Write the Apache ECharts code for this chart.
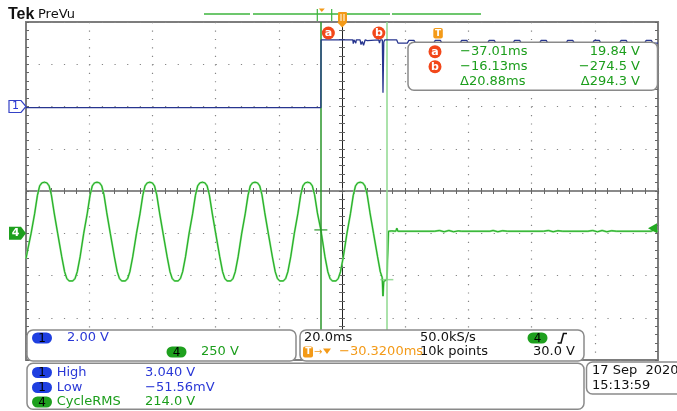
<!DOCTYPE html>
<html>
<head>
<meta charset="utf-8">
<script src="https://cdn.jsdelivr.net/npm/echarts@6/dist/echarts.min.js"></script>
<style>
  html, body { margin: 0; padding: 0; background: #fff; }
  #scope { width: 677px; height: 411px; }
</style>
</head>
<body>
<div id="scope"></div>
<script>
// Horizontal window, ms relative to the trigger point (20 ms/div, 10 div)
const timeRange = [-130.32, 69.68];
const timePerDiv = 20;

// Vertical scales
const ch1VoltsPerDiv = 2.0;
const ch4VoltsPerDiv = 250;
const ch1PositionDiv = 2;   // ground marker, divisions above centre
const ch4PositionDiv = -1;

// Channel 1: control signal [ms, V]
const ch1Trace = [
  [-130.32, -0.05], [-37.0, -0.05], [-36.95, 3.15],
  [-26.9, 3.15], [-26.75, 2.98], [-26.55, 3.15],
  [-26.1, 3.15], [-25.95, 3.0], [-25.8, 3.15],
  [-24.6, 3.15], [-24.3, 2.93], [-23.9, 3.08], [-23.5, 2.9], [-23.0, 3.15],
  [-22.3, 3.12], [-21.9, 3.15],
  [-18.7, 3.15], [-18.45, 3.0], [-18.2, 3.15],
  [-17.55, 3.15], [-17.35, 0.65], [-17.1, 3.05], [-16.8, 3.15],
  [-13.0, 3.15], [-12.6, 3.0],
  [-9.65, 3.0], [-9.15, 3.13], [-7.55, 3.13], [-7.05, 3.0],
  [-1.3, 3.0], [-0.8, 3.13], [0.8, 3.13], [1.3, 3.0],
  [7.05, 3.0], [7.55, 3.13], [9.15, 3.13], [9.65, 3.0],
  [15.75, 3.0], [16.25, 3.13], [17.85, 3.13], [18.35, 3.0],
  [23.8, 3.0], [24.3, 3.13], [25.9, 3.13], [26.4, 3.0],
  [32.2, 3.0], [32.7, 3.13], [34.3, 3.13], [34.8, 3.0],
  [40.6, 3.0], [41.1, 3.13], [42.7, 3.13], [43.2, 3.0],
  [49.0, 3.0], [49.5, 3.13], [51.1, 3.13], [51.6, 3.0],
  [57.5, 3.0], [58.0, 3.13], [59.6, 3.13], [60.1, 3.0],
  [65.45, 3.0], [65.95, 3.13], [67.55, 3.13], [68.05, 3.0],
  [69.68, 3.0]
];

// Channel 4: mains voltage [ms, V]
const ch4Trace = [
  [-130.32, -150], [-129.8, -100],
  [-128.7, 0], [-127.6, 115], [-126.7, 225], [-126.0, 280], [-125.3, 298], [-124.5, 302], [-123.7, 298], [-123.0, 280], [-122.3, 228], [-121.4, 120],
  [-120.3, 0], [-119.0, -140], [-118.1, -228], [-117.4, -268], [-116.7, -282], [-116.1, -285], [-115.5, -282], [-114.8, -268], [-114.1, -228], [-113.2, -140],
  [-112.05, 0], [-110.95, 115], [-110.05, 225], [-109.35, 280], [-108.65, 298], [-107.85, 302], [-107.05, 298], [-106.35, 280], [-105.65, 228], [-104.75, 120],
  [-103.65, 0], [-102.35, -140], [-101.45, -228], [-100.75, -268], [-100.05, -282], [-99.45, -285], [-98.85, -282], [-98.15, -268], [-97.45, -228], [-96.55, -140],
  [-95.35, 0], [-94.25, 115], [-93.35, 225], [-92.65, 280], [-91.95, 298], [-91.15, 302], [-90.35, 298], [-89.65, 280], [-88.95, 228], [-88.05, 120],
  [-86.95, 0], [-85.65, -140], [-84.75, -228], [-84.05, -268], [-83.35, -282], [-82.75, -285], [-82.15, -282], [-81.45, -268], [-80.75, -228], [-79.85, -140],
  [-78.7, 0], [-77.6, 115], [-76.7, 225], [-76.0, 280], [-75.3, 298], [-74.5, 302], [-73.7, 298], [-73.0, 280], [-72.3, 228], [-71.4, 120],
  [-70.3, 0], [-69.0, -140], [-68.1, -228], [-67.4, -268], [-66.7, -282], [-66.1, -285], [-65.5, -282], [-64.8, -268], [-64.1, -228], [-63.2, -140],
  [-62.05, 0], [-60.95, 115], [-60.05, 225], [-59.35, 280], [-58.65, 298], [-57.85, 302], [-57.05, 298], [-56.35, 280], [-55.65, 228], [-54.75, 120],
  [-53.65, 0], [-52.35, -140], [-51.45, -228], [-50.75, -268], [-50.05, -282], [-49.45, -285], [-48.85, -282], [-48.15, -268], [-47.45, -228], [-46.55, -140],
  [-45.4, 0], [-44.3, 115], [-43.4, 225], [-42.7, 280], [-42.0, 298], [-41.2, 302], [-40.4, 298], [-39.7, 280], [-39.0, 228], [-38.1, 120],
  [-37.01, 20], [-35.7, -140], [-34.8, -228], [-34.1, -268], [-33.4, -282], [-32.8, -285], [-32.2, -282], [-31.5, -268], [-30.8, -228], [-29.9, -140],
  [-28.75, 0], [-27.65, 115], [-26.75, 225], [-26.05, 280], [-25.35, 298], [-24.55, 302], [-23.75, 298], [-23.05, 280], [-22.35, 228], [-21.45, 120],
  [-20.35, 0], [-19.05, -140], [-18.2, -228], [-17.6, -262], [-17.35, -372], [-17.1, -285], [-16.6, -280], [-16.13, -274.5], [-15.8, -272], [-15.6, 12],
  [-14.6, 14], [-13.3, 12], [-12.95, 30], [-12.65, 12], [-1.0, 12],
  [0.5, 16], [2.0, 9], [3.5, 16], [5.0, 9], [6.5, 14], [7.5, 12],
  [16.5, 12], [17.5, 16], [19.0, 9], [20.5, 15], [22.0, 12],
  [33.5, 12], [35.0, 16], [36.5, 9], [38.0, 15], [39.5, 12],
  [47.5, 12], [49.0, 16], [50.5, 9], [52.0, 16], [53.5, 9], [55.0, 15], [56.5, 12],
  [67.5, 12], [68.5, 20], [69.68, 12]
];

// Cursors (time, channel 4 value)
const cursorTimes = [-37.01, -16.13];
const cursorVolts = [19.84, -274.5];
const cursorNames = ['a', 'b'];

// Trigger
const triggerLevel = 30.0;
const triggerOffsetLabel = '−30.3200ms';

// Status readouts
const scaleLabels = ['2.00 V', '250 V'];
const horizLabels = ['20.0ms', '50.0kS/s', '10k points', '30.0 V'];
const measureChannels = [1, 1, 4];
const measureNames = ['High', 'Low', 'CycleRMS'];
const measureValues = ['3.040 V', '−51.56mV', '214.0 V'];
const dateLines = ['17 Sep  2020', '15:13:59'];

const BLUE_TRACE = '#27358f';
const BLUE_TEXT = '#2a38d6';
const BLUE_PILL = '#1f3fe0';
const GREEN_TEXT = '#1c9e1c';
const GREEN_PILL = '#1ea01e';
const ORANGE = '#f39a18';
const CURSOR_RED = '#f2471a';
const FONT = '"DejaVu Sans"';

const signed = v => (v < 0 ? '−' : '') + Math.abs(v).toPrecision(4);

const divAxisBase = {
  type: 'value', min: -5, max: 5, interval: 1, gridIndex: 0,
  axisLabel: { show: false }, splitLine: { show: false }
};
const divYBase = {
  type: 'value', min: -4, max: 4, interval: 1, gridIndex: 0,
  axisLabel: { show: false }, splitLine: { show: false }
};
const tickStyle = { color: '#666', width: 1 };

const chart = echarts.init(document.getElementById('scope'), null, { renderer: 'canvas' });

const option = {
  animation: false,
  backgroundColor: '#fff',
  grid: {
    left: 26, top: 22, width: 632, height: 338,
    show: true, backgroundColor: '#fff', borderColor: '#7d7d7d', borderWidth: 2
  },
  xAxis: [
    { type: 'value', min: timeRange[0], max: timeRange[1], show: false },
    Object.assign({}, divAxisBase, {
      position: 'top', offset: -169,
      axisLine: { show: true, lineStyle: { color: '#8a8a8a', width: 2 } },
      axisTick: { show: true, inside: true, length: 3, lineStyle: tickStyle },
      minorTick: { show: true, splitNumber: 5, length: 3, lineStyle: tickStyle },
      splitLine: { show: true, lineStyle: { color: '#858585', width: 1.2, type: [1.2, 7.25] } }
    }),
    Object.assign({}, divAxisBase, {
      position: 'top', offset: -169,
      axisLine: { show: false },
      axisTick: { show: true, inside: false, length: 3, lineStyle: tickStyle },
      minorTick: { show: true, splitNumber: 5, length: 3, lineStyle: tickStyle }
    }),
    Object.assign({}, divAxisBase, {
      position: 'top', offset: 0,
      axisLine: { show: false },
      axisTick: { show: true, inside: true, length: 3, lineStyle: tickStyle },
      minorTick: { show: true, splitNumber: 5, length: 3, lineStyle: tickStyle }
    })
  ],
  yAxis: [
    { type: 'value', min: -(4 + ch1PositionDiv) * ch1VoltsPerDiv, max: (4 - ch1PositionDiv) * ch1VoltsPerDiv, show: false },
    { type: 'value', min: -(4 + ch4PositionDiv) * ch4VoltsPerDiv, max: (4 - ch4PositionDiv) * ch4VoltsPerDiv, show: false },
    Object.assign({}, divYBase, {
      position: 'left', offset: -316,
      axisLine: { show: true, lineStyle: { color: '#222', width: 1 } },
      axisTick: { show: true, inside: true, length: 3, lineStyle: tickStyle },
      minorTick: { show: true, splitNumber: 5, length: 3, lineStyle: tickStyle },
      splitLine: { show: true, lineStyle: { color: '#858585', width: 1.2, type: [1.2, 11.44] } }
    }),
    Object.assign({}, divYBase, {
      position: 'left', offset: -316,
      axisLine: { show: false },
      axisTick: { show: true, inside: false, length: 3, lineStyle: tickStyle },
      minorTick: { show: true, splitNumber: 5, length: 3, lineStyle: tickStyle }
    }),
    Object.assign({}, divYBase, {
      position: 'left', offset: 0,
      axisLine: { show: false },
      axisTick: { show: true, inside: true, length: 3, lineStyle: tickStyle },
      minorTick: { show: true, splitNumber: 5, length: 3, lineStyle: tickStyle }
    }),
    Object.assign({}, divYBase, {
      position: 'right', offset: 0,
      axisLine: { show: false },
      axisTick: { show: true, inside: true, length: 3, lineStyle: tickStyle },
      minorTick: { show: true, splitNumber: 5, length: 3, lineStyle: tickStyle }
    })
  ],
  series: [
    {
      name: 'cursors', type: 'line', xAxisIndex: 0, yAxisIndex: 1, data: [], z: 2,
      markLine: {
        silent: true, symbol: 'none', label: { show: false },
        data: [
          { xAxis: cursorTimes[0], lineStyle: { color: '#2a962a', width: 1.5, type: 'solid' } },
          { xAxis: cursorTimes[1], lineStyle: { color: '#8fd88f', width: 1.5, type: 'solid' } }
        ]
      }
    },
    {
      name: 'CH4 glow', type: 'line', xAxisIndex: 0, yAxisIndex: 1, data: ch4Trace,
      showSymbol: false, z: 3, lineStyle: { color: '#86df86', width: 2 }
    },
    {
      name: 'CH4', type: 'line', xAxisIndex: 0, yAxisIndex: 1, data: ch4Trace,
      showSymbol: false, z: 4, lineStyle: { color: '#22aa22', width: 1 }
    },
    {
      name: 'CH1', type: 'line', xAxisIndex: 0, yAxisIndex: 0, data: ch1Trace,
      showSymbol: false, z: 5, lineStyle: { color: BLUE_TRACE, width: 1.3 }
    },
    {
      name: 'cursor marks', type: 'scatter', xAxisIndex: 0, yAxisIndex: 1, z: 6,
      symbol: 'rect', symbolSize: [13, 1.5],
      data: [
        { value: [cursorTimes[0], cursorVolts[0]], itemStyle: { color: '#2a962a' } },
        { value: [cursorTimes[1], cursorVolts[1]], itemStyle: { color: '#7fd07f' } }
      ]
    }
  ]
};

chart.setOption(option);

// ---- overlay: status boxes, markers and readouts ----
const px = t => chart.convertToPixel({ xAxisIndex: 0 }, t);
const py1 = v => chart.convertToPixel({ yAxisIndex: 0 }, v);
const py4 = v => chart.convertToPixel({ yAxisIndex: 1 }, v);

function txt(x, y, s, color, font, align) {
  return {
    type: 'text', x: x, y: y, z: 112,
    style: {
      text: s, fill: color, font: font || ('13px ' + FONT),
      align: align || 'left', textAlign: align || 'left',
      verticalAlign: 'middle', textVerticalAlign: 'middle'
    }
  };
}
function box(x, y, w, h) {
  return {
    type: 'rect', z: 110, shape: { x: x, y: y, width: w, height: h, r: 6 },
    style: { fill: '#fff', stroke: '#8a8a8a', lineWidth: 1.5 }
  };
}
function pill(x, yc, channel) {
  const fill = channel === 1 ? BLUE_PILL : GREEN_PILL;
  return [
    { type: 'rect', z: 111, shape: { x: x, y: yc - 5.5, width: 20, height: 11, r: 5.5 }, style: { fill: fill } },
    txt(x + 10, yc + 0.5, String(channel), '#000', '12px ' + FONT, 'center')
  ];
}
function badge(cx, cy, letter) {
  return [
    { type: 'circle', z: 111, shape: { cx: cx, cy: cy, r: 6.5 }, style: { fill: CURSOR_RED } },
    txt(cx, cy, letter, '#fff', 'bold 11px ' + FONT, 'center')
  ];
}
function line(x1, y1, x2, y2, color, w) {
  return { type: 'line', z: 111, shape: { x1: x1, y1: y1, x2: x2, y2: y2 }, style: { stroke: color, lineWidth: w || 1.5 } };
}
function poly(points, fill, stroke) {
  return { type: 'polygon', z: 111, shape: { points: points }, style: { fill: fill, stroke: stroke || null, lineWidth: 1.2 } };
}

const xa = px(cursorTimes[0]);
const xb = px(cursorTimes[1]);
const xTrig = px(0);
const y1 = py1(0);
const y4 = py4(0);
const yTrig = py4(triggerLevel);
const dt = cursorTimes[1] - cursorTimes[0];
const dv = Math.abs(cursorVolts[1] - cursorVolts[0]);

const g = [];

// Title
g.push(txt(8, 14.5, 'Tek', '#111', 'bold 16px "Liberation Sans"'));
g.push(txt(38, 14.5, 'PreVu', '#111', '13px ' + FONT));

// Record view bar
g.push(line(204, 14, 250, 14, '#3cb43c'));
g.push(line(253, 14, 390, 14, '#3cb43c'));
g.push(line(392, 14, 481, 14, '#3cb43c'));
g.push(line(317.3, 9, 317.3, 21, '#3cb43c', 1.2));
g.push(line(331.7, 9, 331.7, 21, '#3cb43c', 1.2));
g.push(poly([[318.8, 8.5], [324.8, 8.5], [321.8, 12]], ORANGE));
g.push({ type: 'rect', z: 111, shape: { x: 338, y: 12, width: 9, height: 10, r: 1 }, style: { fill: ORANGE } });
g.push(line(341, 14, 341, 21, '#fff', 1));
g.push(line(344, 14, 344, 21, '#fff', 1));
g.push(poly([[337, 22], [347.5, 22], [342.2, 27.5]], ORANGE));

// Cursor badges at the top of the graticule
g.push(...badge(xa + 7.5, 33, cursorNames[0]));
g.push(...badge(xb - 8, 33, cursorNames[1]));

// Trigger point tab
g.push({ type: 'rect', z: 111, shape: { x: xTrig - 4.5, y: 28, width: 9.5, height: 10.5, r: 2 }, style: { fill: ORANGE } });
g.push(txt(xTrig + 0.3, 33.5, 'T', '#fff', 'bold 9px ' + FONT, 'center'));

// Cursor readout box
g.push(box(408, 42.3, 249.5, 48));
g.push(...badge(435, 51.7, cursorNames[0]));
g.push(...badge(435, 66.7, cursorNames[1]));
g.push(txt(460, 52, signed(cursorTimes[0]) + 'ms', GREEN_TEXT));
g.push(txt(460, 67, signed(cursorTimes[1]) + 'ms', GREEN_TEXT));
g.push(txt(460, 82, 'Δ' + dt.toPrecision(4) + 'ms', GREEN_TEXT));
g.push(txt(640, 52, signed(cursorVolts[0]) + ' V', GREEN_TEXT, null, 'right'));
g.push(txt(640, 67, signed(cursorVolts[1]) + ' V', GREEN_TEXT, null, 'right'));
g.push(txt(640, 82, 'Δ' + dv.toPrecision(4) + ' V', GREEN_TEXT, null, 'right'));

// Channel ground markers
g.push(poly([[9, 100.5], [21, 100.5], [26, y1], [21, 112.5], [9, 112.5]], '#fff', '#3442c6'));
g.push(txt(15.5, y1, '1', BLUE_TEXT, '11px ' + FONT, 'center'));
g.push(poly([[9, y4 - 6.5], [21, y4 - 6.5], [26, y4], [21, y4 + 6.5], [9, y4 + 6.5]], GREEN_PILL));
g.push(txt(15.5, y4, '4', '#fff', 'bold 11px ' + FONT, 'center'));

// Trigger level arrow on the right edge
g.push(poly([[648, yTrig], [657, yTrig - 5], [657, yTrig + 5]], '#22aa22'));

// Vertical scale box
g.push(box(27, 330, 269, 31));
g.push(...pill(32, 338, 1));
g.push(txt(67, 338, scaleLabels[0], BLUE_TEXT));
g.push(...pill(166.5, 352, 4));
g.push(txt(201, 352, scaleLabels[1], GREEN_TEXT));

// Horizontal / trigger box
g.push(box(300, 330, 284, 31));
g.push(txt(304, 338, horizLabels[0], '#111'));
g.push(txt(420, 338, horizLabels[1], '#111'));
g.push(...pill(527.5, 338, 4));
g.push({ type: 'polyline', z: 111, shape: { points: [[557.5, 343], [561, 343], [563.5, 333.5], [567, 333.5]] }, style: { stroke: '#111', lineWidth: 1.6, fill: null } });
g.push({ type: 'rect', z: 111, shape: { x: 303, y: 346.5, width: 10, height: 11, r: 2 }, style: { fill: ORANGE } });
g.push(txt(308.2, 352, 'T', '#fff', 'bold 9px ' + FONT, 'center'));
g.push(txt(314, 352, '→', ORANGE, '10px ' + FONT));
g.push(poly([[323, 348.5], [331, 348.5], [327, 354]], ORANGE));
g.push(txt(339, 352, triggerOffsetLabel, ORANGE));
g.push(txt(420, 352, horizLabels[2], '#111'));
g.push(txt(575, 352, horizLabels[3], '#111', null, 'right'));

// Measurement box
g.push(box(27, 363.3, 557, 46));
const rowY = [372.5, 387.5, 402];
measureNames.forEach((name, i) => {
  const col = measureChannels[i] === 1 ? BLUE_TEXT : GREEN_TEXT;
  g.push(...pill(32, rowY[i], measureChannels[i]));
  g.push(txt(56.7, rowY[i], name, col));
  g.push(txt(145, rowY[i], measureValues[i], col));
});

// Date box
g.push(box(586.5, 362, 110, 32));
g.push(txt(592, 371, dateLines[0], '#111'));
g.push(txt(592, 386, dateLines[1], '#111'));

chart.setOption({ graphic: { elements: g } });
</script>
</body>
</html>
